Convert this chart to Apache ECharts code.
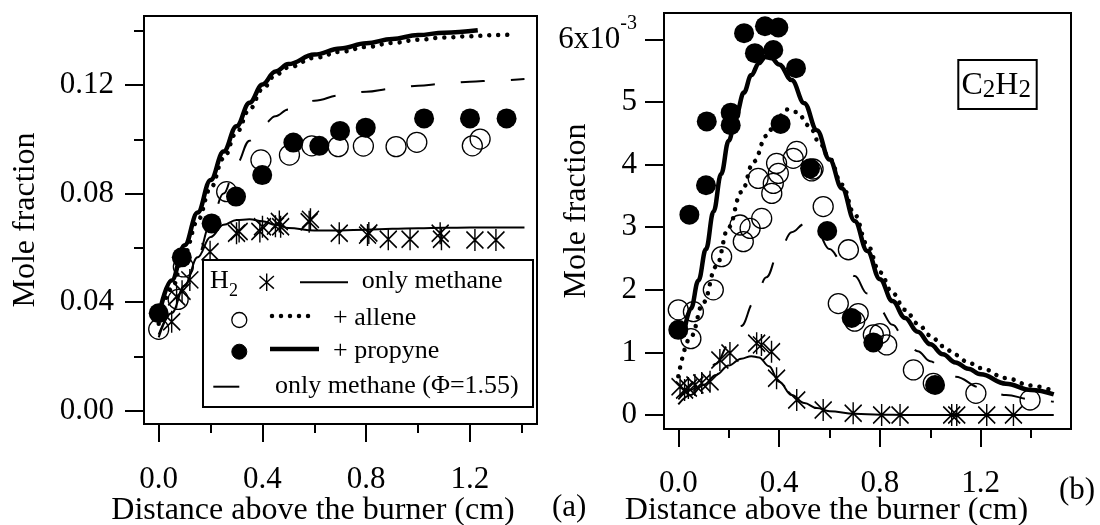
<!DOCTYPE html>
<html>
<head>
<meta charset="utf-8">
<script src="https://cdn.jsdelivr.net/npm/echarts@6/dist/echarts.min.js"></script>
<style>
html,body{margin:0;padding:0;background:#fff;}
#chart{width:1100px;height:525px;}
</style>
</head>
<body>
<div id="chart"></div>
<script>
// ================= DATA =================
// Tick values
const xMajorTicks = [0, 0.4, 0.8, 1.2];
const xMinorTicks = [0.2, 0.6, 1.0, 1.4];
const yMajorTicksA = [0, 0.04, 0.08, 0.12];
const yMinorTicksA = [0.02, 0.06, 0.10, 0.14];
const yTicksB = [0, 1, 2, 3, 4, 5, 6];            // panel (b) values are in units of 1e-3

// ---- Panel (a): H2 mole fraction ----
const h2ExpX_a = [0.05, 0.069, 0.09, 0.12, 0.198, 0.30, 0.31, 0.39, 0.40, 0.45, 0.465, 0.47, 0.58, 0.585, 0.696, 0.805, 0.81, 0.885, 0.969, 1.085, 1.09, 1.219, 1.30];
const h2ExpY_a = [0.0328, 0.042, 0.044, 0.0482, 0.0586, 0.0654, 0.066, 0.066, 0.0678, 0.068, 0.0697, 0.0678, 0.0696, 0.0705, 0.0654, 0.0647, 0.0655, 0.0632, 0.0632, 0.0654, 0.0632, 0.0629, 0.0629];

const alleneExpX_a = [0.0, 0.075, 0.095, 0.262, 0.394, 0.504, 0.590, 0.692, 0.789, 0.915, 0.995, 1.209, 1.239];
const alleneExpY_a = [0.030, 0.041, 0.053, 0.0807, 0.0924, 0.0942, 0.0976, 0.0973, 0.0975, 0.0973, 0.0989, 0.0976, 0.1001];

const propyneExpX_a = [0.0, 0.089, 0.204, 0.298, 0.399, 0.519, 0.619, 0.699, 0.798, 1.023, 1.200, 1.341];
const propyneExpY_a = [0.0359, 0.0565, 0.069, 0.0789, 0.0868, 0.0988, 0.0976, 0.1031, 0.1043, 0.1077, 0.1077, 0.1077];

const h2ModelX_a = [0, 0.05, 0.1, 0.15, 0.2, 0.25, 0.3, 0.35, 0.4, 0.45, 0.5, 0.6, 0.7, 0.8, 0.9, 1.0, 1.1, 1.2, 1.3, 1.41];
const h2ModelY_a = [0.028, 0.036, 0.046, 0.0565, 0.064, 0.0685, 0.0703, 0.0705, 0.0698, 0.0685, 0.0673, 0.0664, 0.0664, 0.0667, 0.067, 0.0672, 0.0674, 0.0675, 0.0675, 0.0675];

const phiModelX_a = [0, 0.05, 0.1, 0.15, 0.2, 0.25, 0.3, 0.35, 0.4, 0.45, 0.5, 0.6, 0.7, 0.8, 0.9, 1.0, 1.1, 1.2, 1.3, 1.41];
const phiModelY_a = [0.027, 0.036, 0.046, 0.057, 0.069, 0.080, 0.091, 0.0995, 0.105, 0.1085, 0.111, 0.1142, 0.1162, 0.1175, 0.1186, 0.1197, 0.1205, 0.1212, 0.1217, 0.1222];

const alleneModelX_a = [0, 0.05, 0.1, 0.15, 0.2, 0.25, 0.3, 0.35, 0.4, 0.45, 0.5, 0.6, 0.7, 0.8, 0.9, 1.0, 1.1, 1.2, 1.3, 1.37];
const alleneModelY_a = [0.032, 0.045, 0.058, 0.070, 0.082, 0.093, 0.1025, 0.111, 0.1185, 0.1237, 0.1265, 0.1300, 0.1322, 0.1340, 0.1355, 0.1367, 0.1375, 0.1380, 0.1384, 0.1386];

const propyneModelX_a = [0, 0.05, 0.1, 0.15, 0.2, 0.25, 0.3, 0.35, 0.4, 0.45, 0.5, 0.6, 0.7, 0.8, 0.9, 1.0, 1.1, 1.23];
const propyneModelY_a = [0.035, 0.048, 0.061, 0.073, 0.085, 0.0955, 0.1048, 0.1135, 0.1202, 0.1250, 0.1277, 0.1312, 0.1335, 0.1354, 0.1370, 0.1384, 0.1393, 0.1402];

// ---- Panel (b): C2H2 mole fraction (x 1e-3) ----
const h2ExpX_b = [0.007, 0.025, 0.04, 0.066, 0.093, 0.126, 0.165, 0.205, 0.311, 0.33, 0.37, 0.39, 0.47, 0.575, 0.694, 0.807, 0.88, 1.085, 1.105, 1.224, 1.33];
const h2ExpY_b = [0.45, 0.40, 0.43, 0.48, 0.51, 0.53, 0.88, 0.99, 1.145, 1.12, 1.01, 0.586, 0.24, 0.08, 0.027, 0.0, 0.0, 0.0, 0.0, 0.0, 0.0];

const alleneExpX_b = [0.0, 0.05, 0.06, 0.139, 0.172, 0.245, 0.258, 0.285, 0.317, 0.331, 0.371, 0.377, 0.390, 0.397, 0.456, 0.470, 0.529, 0.535, 0.575, 0.635, 0.675, 0.70, 0.714, 0.774, 0.80, 0.827, 0.933, 1.012, 1.181, 1.396];
const alleneExpY_b = [1.68, 1.22, 1.65, 2.0, 2.53, 3.035, 2.77, 2.98, 3.78, 3.14, 3.54, 3.70, 4.02, 3.86, 4.10, 4.21, 3.90, 3.93, 3.33, 1.78, 2.64, 1.50, 1.62, 1.28, 1.30, 1.12, 0.72, 0.506, 0.346, 0.24];

const propyneExpX_b = [0.0, 0.044, 0.110, 0.113, 0.208, 0.208, 0.261, 0.304, 0.344, 0.377, 0.397, 0.406, 0.467, 0.523, 0.591, 0.688, 0.774, 1.019];
const propyneExpY_b = [1.36, 3.20, 3.67, 4.69, 4.83, 4.63, 6.10, 5.78, 6.21, 5.83, 6.19, 4.65, 5.54, 3.94, 2.94, 1.55, 1.16, 0.48];

const h2ModelX_b = [0, 0.05, 0.1, 0.15, 0.2, 0.25, 0.29, 0.32, 0.36, 0.40, 0.45, 0.5, 0.55, 0.6, 0.7, 0.8, 0.9, 1.2, 1.49];
const h2ModelY_b = [0.17, 0.32, 0.48, 0.64, 0.79, 0.90, 0.94, 0.92, 0.78, 0.53, 0.32, 0.19, 0.11, 0.06, 0.02, 0.005, 0.0, 0.0, 0.0];

const phiModelX_b = [0, 0.05, 0.1, 0.15, 0.2, 0.25, 0.3, 0.35, 0.4, 0.45, 0.5, 0.55, 0.6, 0.65, 0.7, 0.75, 0.8, 0.85, 0.9, 0.95, 1.0, 1.05, 1.1, 1.2, 1.3, 1.4, 1.49];
const phiModelY_b = [0.25, 0.40, 0.58, 0.82, 1.12, 1.42, 1.80, 2.20, 2.62, 2.92, 3.05, 2.93, 2.65, 2.45, 2.22, 1.94, 1.68, 1.44, 1.20, 1.02, 0.86, 0.73, 0.61, 0.44, 0.32, 0.25, 0.21];

const alleneModelX_b = [0, 0.05, 0.1, 0.15, 0.2, 0.25, 0.3, 0.35, 0.39, 0.43, 0.47, 0.52, 0.56, 0.6, 0.65, 0.7, 0.75, 0.8, 0.85, 0.9, 0.95, 1.0, 1.05, 1.1, 1.15, 1.2, 1.3, 1.4, 1.49];
const alleneModelY_b = [0.62, 1.25, 1.80, 2.37, 3.00, 3.56, 4.05, 4.46, 4.72, 4.88, 4.84, 4.62, 4.35, 4.10, 3.68, 3.20, 2.72, 2.28, 1.95, 1.68, 1.46, 1.27, 1.10, 0.96, 0.84, 0.75, 0.59, 0.47, 0.38];

const propyneModelX_b = [0.02, 0.05, 0.08, 0.11, 0.14, 0.17, 0.2, 0.23, 0.26, 0.29, 0.32, 0.345, 0.37, 0.4, 0.45, 0.5, 0.55, 0.6, 0.65, 0.7, 0.75, 0.8, 0.85, 0.9, 0.95, 1.0, 1.05, 1.1, 1.15, 1.2, 1.3, 1.4, 1.49];
const propyneModelY_b = [1.25, 1.70, 2.15, 2.65, 3.25, 3.85, 4.38, 4.80, 5.15, 5.43, 5.62, 5.72, 5.70, 5.60, 5.35, 4.98, 4.55, 4.08, 3.62, 3.10, 2.62, 2.17, 1.82, 1.55, 1.33, 1.13, 0.97, 0.84, 0.74, 0.65, 0.50, 0.40, 0.33];

// Legend labels
const legendLabels = ['only methane', '+ allene', '+ propyne', 'only methane (\u03A6=1.55)'];

// ================= CHART =================
const FONT = '"Liberation Serif", "Times New Roman", serif';
const pairs = (xs, ys) => xs.map((x, i) => [x, ys[i]]);
const ASTER = 'path://M8.5,0L8.5,22M1,2.5L16,19.5M16,2.5L1,19.5';

const X_MIN = -0.0567, X_MAX_A = 1.4583, X_MAX_B = 1.5584;
const Y_MIN_A = -0.0049, Y_MAX_A = 0.14543;
const Y_MIN_B = -0.2236, Y_MAX_B = 6.4217;

function lineSeries(xi, yi, xs, ys, style) {
  return {type: 'line', xAxisIndex: xi, yAxisIndex: yi, data: pairs(xs, ys),
    showSymbol: false, smooth: 0.4, smoothMonotone: 'x', lineStyle: style, silent: true};
}
function scatterSeries(xi, yi, xs, ys, kind) {
  const s = {type: 'scatter', xAxisIndex: xi, yAxisIndex: yi, data: pairs(xs, ys), silent: true};
  if (kind === 'aster') {
    s.symbol = ASTER; s.symbolSize = [17, 22];
    s.itemStyle = {color: '#000', borderColor: '#000', borderWidth: 1.6, opacity: 1};
  } else if (kind === 'open') {
    s.symbol = 'circle'; s.symbolSize = 20;
    s.itemStyle = {color: 'rgba(255,255,255,0)', borderColor: '#000', borderWidth: 1.3, opacity: 1};
  } else {
    s.symbol = 'circle'; s.symbolSize = 20;
    s.itemStyle = {color: '#000', borderColor: '#000', borderWidth: 0, opacity: 1};
  }
  return s;
}
const thin = {color: '#000', width: 2};
const dashed = {color: '#000', width: 2, type: [24, 26]};
const dotted = {color: '#000', width: 4.5, type: [0.001, 9], cap: 'round'};
const thick = {color: '#000', width: 4.5};

function xMainAxis(grid, max, labelMargin, nameGap, padRight) {
  return {gridIndex: grid, type: 'value', min: X_MIN, max: max, position: 'bottom',
    axisLine: {show: false, onZero: false}, splitLine: {show: false},
    axisTick: {show: true, inside: false, length: 18, customValues: xMajorTicks, lineStyle: {color: '#000', width: 2}},
    axisLabel: {show: true, customValues: xMajorTicks, formatter: v => v.toFixed(1), margin: labelMargin,
      color: '#000', fontFamily: FONT, fontSize: 31},
    name: 'Distance above the burner (cm)', nameLocation: 'middle', nameGap: nameGap, nameMoveOverlap: false,
    nameTextStyle: {color: '#000', fontFamily: FONT, fontSize: 32, padding: [0, padRight, 0, 0]}};
}
function xMinorAxis(grid, max) {
  return {gridIndex: grid, type: 'value', min: X_MIN, max: max, position: 'bottom',
    axisLine: {show: false, onZero: false}, splitLine: {show: false}, axisLabel: {show: false},
    axisTick: {show: true, inside: false, length: 9, customValues: xMinorTicks, lineStyle: {color: '#000', width: 2}}};
}

const option = {
  animation: false,
  backgroundColor: '#fff',
  grid: [
    {left: 144, top: 16, width: 393, height: 408, outerBoundsMode: 'none', containLabel: false,
      show: true, borderColor: '#000', borderWidth: 2, backgroundColor: 'rgba(0,0,0,0)'},
    {left: 664, top: 13, width: 407, height: 416, outerBoundsMode: 'none', containLabel: false,
      show: true, borderColor: '#000', borderWidth: 2, backgroundColor: 'rgba(0,0,0,0)'}
  ],
  xAxis: [
    xMainAxis(0, X_MAX_A, 40, 71, 55),
    xMinorAxis(0, X_MAX_A),
    xMainAxis(1, X_MAX_B, 39, 66, 82),
    xMinorAxis(1, X_MAX_B)
  ],
  yAxis: [
    {gridIndex: 0, type: 'value', min: Y_MIN_A, max: Y_MAX_A, position: 'left',
      axisLine: {show: false, onZero: false}, splitLine: {show: false},
      axisTick: {show: true, inside: false, length: 19, customValues: yMajorTicksA, lineStyle: {color: '#000', width: 2}},
      axisLabel: {show: true, customValues: yMajorTicksA, formatter: v => v.toFixed(2), margin: 30,
        color: '#000', fontFamily: FONT, fontSize: 31},
      name: 'Mole fraction', nameLocation: 'middle', nameGap: 102, nameMoveOverlap: false,
      nameTextStyle: {color: '#000', fontFamily: FONT, fontSize: 32}},
    {gridIndex: 0, type: 'value', min: Y_MIN_A, max: Y_MAX_A, position: 'left',
      axisLine: {show: false, onZero: false}, splitLine: {show: false}, axisLabel: {show: false},
      axisTick: {show: true, inside: false, length: 10, customValues: yMinorTicksA, lineStyle: {color: '#000', width: 2}}},
    {gridIndex: 1, type: 'value', min: Y_MIN_B, max: Y_MAX_B, position: 'left',
      axisLine: {show: false, onZero: false}, splitLine: {show: false},
      axisTick: {show: true, inside: false, length: 19, customValues: yTicksB, lineStyle: {color: '#000', width: 2}},
      axisLabel: {show: true, customValues: yTicksB, margin: 27,
        formatter: v => (v === 6 ? '{m|6x10}{s|-3}' : '{m|' + v + '}'),
        rich: {
          m: {fontFamily: FONT, fontSize: 31, color: '#000', lineHeight: 52},
          s: {fontFamily: FONT, fontSize: 20, color: '#000', lineHeight: 20, verticalAlign: 'top'}
        }},
      name: 'Mole fraction', nameLocation: 'middle', nameGap: 71, nameMoveOverlap: false,
      nameTextStyle: {color: '#000', fontFamily: FONT, fontSize: 32, padding: [0, 0, 0, 20]}}
  ],
  series: [
    lineSeries(0, 0, h2ModelX_a, h2ModelY_a, thin),
    lineSeries(0, 0, phiModelX_a, phiModelY_a, dashed),
    lineSeries(0, 0, alleneModelX_a, alleneModelY_a, dotted),
    lineSeries(0, 0, propyneModelX_a, propyneModelY_a, thick),
    scatterSeries(0, 0, h2ExpX_a, h2ExpY_a, 'aster'),
    scatterSeries(0, 0, alleneExpX_a, alleneExpY_a, 'open'),
    scatterSeries(0, 0, propyneExpX_a, propyneExpY_a, 'filled'),

    lineSeries(2, 2, h2ModelX_b, h2ModelY_b, thin),
    lineSeries(2, 2, phiModelX_b, phiModelY_b, dashed),
    lineSeries(2, 2, alleneModelX_b, alleneModelY_b, dotted),
    lineSeries(2, 2, propyneModelX_b, propyneModelY_b, thick),
    scatterSeries(2, 2, h2ExpX_b, h2ExpY_b, 'aster'),
    scatterSeries(2, 2, alleneExpX_b, alleneExpY_b, 'open'),
    scatterSeries(2, 2, propyneExpX_b, propyneExpY_b, 'filled')
  ],
  graphic: [
    // legend box (panel a)
    {type: 'rect', z: 100, shape: {x: 203, y: 260, width: 330, height: 147}, style: {fill: '#fff', stroke: '#000', lineWidth: 2}},
    {type: 'text', z: 101, style: {x: 210, y: 281.2, text: 'H', font: '26px ' + FONT, fill: '#000', verticalAlign: 'middle'}},
    {type: 'text', z: 101, style: {x: 229, y: 290.9, text: '2', font: '18px ' + FONT, fill: '#000', verticalAlign: 'middle'}},
    {type: 'line', z: 101, shape: {x1: 266.7, y1: 273.5, x2: 266.7, y2: 291}, style: {stroke: '#000', lineWidth: 1.4}},
    {type: 'line', z: 101, shape: {x1: 259.5, y1: 276, x2: 273.9, y2: 288.6}, style: {stroke: '#000', lineWidth: 1.4}},
    {type: 'line', z: 101, shape: {x1: 273.9, y1: 276, x2: 259.5, y2: 288.6}, style: {stroke: '#000', lineWidth: 1.4}},
    {type: 'line', z: 101, shape: {x1: 300, y1: 282.3, x2: 348, y2: 282.3}, style: {stroke: '#000', lineWidth: 2}},
    {type: 'text', z: 101, style: {x: 361.7, y: 281.2, text: legendLabels[0], font: '26px ' + FONT, fill: '#000', verticalAlign: 'middle'}},

    {type: 'circle', z: 101, shape: {cx: 239.3, cy: 320, r: 7.5}, style: {fill: '#fff', stroke: '#000', lineWidth: 1.3}},
    {type: 'line', z: 101, shape: {x1: 272, y1: 316, x2: 317, y2: 316}, style: {stroke: '#000', lineWidth: 4.5, lineDash: [0.001, 9], lineCap: 'round'}},
    {type: 'text', z: 101, style: {x: 333, y: 318.2, text: legendLabels[1], font: '26px ' + FONT, fill: '#000', verticalAlign: 'middle'}},

    {type: 'circle', z: 101, shape: {cx: 239.3, cy: 351.7, r: 7.5}, style: {fill: '#000', stroke: '#000', lineWidth: 1}},
    {type: 'line', z: 101, shape: {x1: 270, y1: 349, x2: 319, y2: 349}, style: {stroke: '#000', lineWidth: 4.5}},
    {type: 'text', z: 101, style: {x: 333, y: 351.2, text: legendLabels[2], font: '26px ' + FONT, fill: '#000', verticalAlign: 'middle'}},

    {type: 'line', z: 101, shape: {x1: 213.3, y1: 386.7, x2: 239.3, y2: 386.7}, style: {stroke: '#000', lineWidth: 2}},
    {type: 'text', z: 101, style: {x: 275, y: 386.2, text: legendLabels[3], font: '26px ' + FONT, fill: '#000', verticalAlign: 'middle'}},

    // C2H2 box (panel b)
    {type: 'rect', z: 100, shape: {x: 958.3, y: 60, width: 78.4, height: 49}, style: {fill: '#fff', stroke: '#000', lineWidth: 2}},
    {type: 'text', z: 101, style: {x: 961.5, y: 86, text: 'C', font: '32px ' + FONT, fill: '#000', verticalAlign: 'middle'}},
    {type: 'text', z: 101, style: {x: 982.8, y: 90.2, text: '2', font: '25px ' + FONT, fill: '#000', verticalAlign: 'middle'}},
    {type: 'text', z: 101, style: {x: 995.3, y: 86, text: 'H', font: '32px ' + FONT, fill: '#000', verticalAlign: 'middle'}},
    {type: 'text', z: 101, style: {x: 1018.4, y: 90.2, text: '2', font: '25px ' + FONT, fill: '#000', verticalAlign: 'middle'}},

    // panel labels
    {type: 'text', z: 101, style: {x: 552, y: 508, text: '(a)', font: '31px ' + FONT, fill: '#000', verticalAlign: 'middle'}},
    {type: 'text', z: 101, style: {x: 1059, y: 490.6, text: '(b)', font: '31px ' + FONT, fill: '#000', verticalAlign: 'middle'}}
  ]
};

const chart = echarts.init(document.getElementById('chart'), null, {renderer: 'canvas'});
chart.setOption(option);
</script>
</body>
</html>
